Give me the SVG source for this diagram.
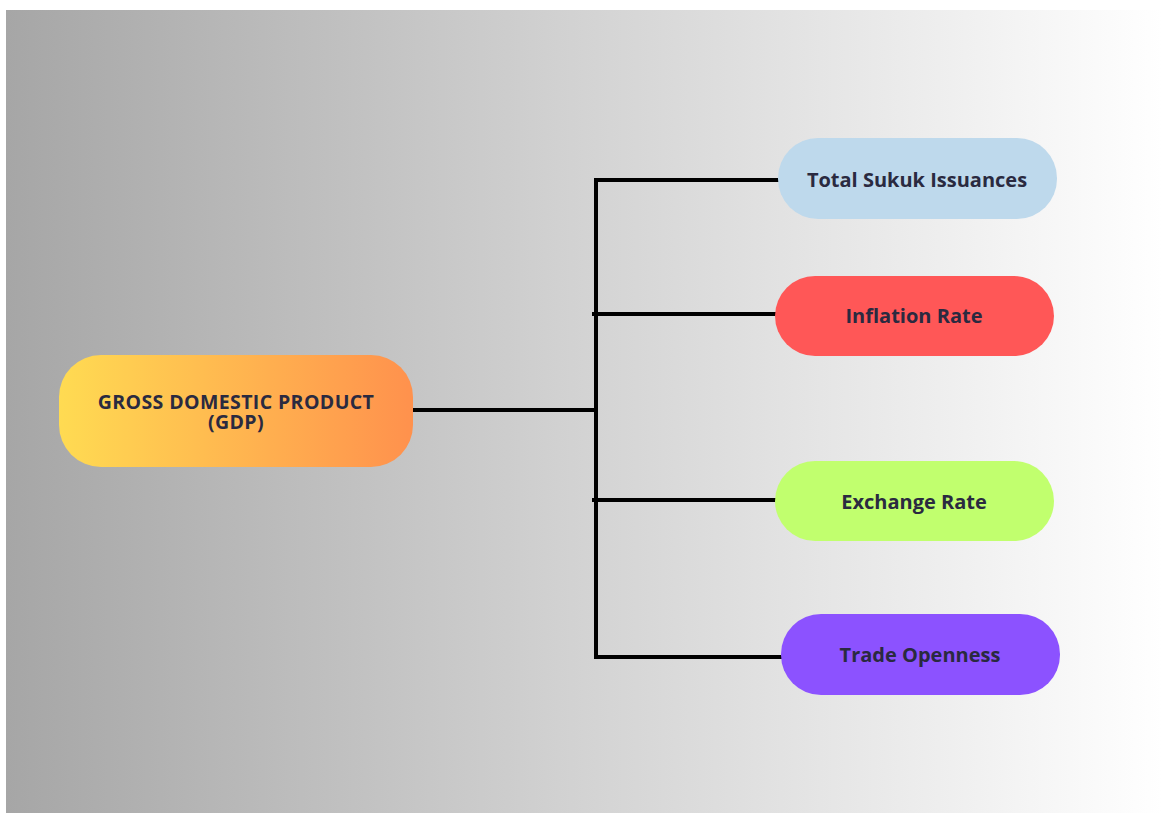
<svg xmlns="http://www.w3.org/2000/svg" width="1162" height="813" viewBox="0 0 1162 813">
<defs>
<linearGradient id="bg" x1="0" y1="0" x2="1" y2="0">
<stop offset="0" stop-color="#a6a6a6"/>
<stop offset="0.5" stop-color="#d3d3d3"/>
<stop offset="1" stop-color="#ffffff"/>
</linearGradient>
<linearGradient id="gdp" x1="0" y1="0" x2="1" y2="0">
<stop offset="0" stop-color="#ffdb52"/>
<stop offset="1" stop-color="#ff914d"/>
</linearGradient>
<style>
.lbl{font-family:"Open Sans","Liberation Sans",sans-serif;font-weight:bold;font-size:20px;fill:#2a2a40;text-anchor:middle;dominant-baseline:central}
.conn{stroke:#000;stroke-width:4;fill:none;stroke-linecap:square}
</style>
</defs>
<rect width="1162" height="813" fill="#ffffff"/>
<rect x="6" y="10" width="1156" height="803" fill="url(#bg)"/>
<g id="connectors">
<path class="conn" d="M413 410 H593"/>
<path class="conn" d="M596 180 V657"/>
<path class="conn" d="M596 180 H778"/>
<path class="conn" d="M594 314 H775"/>
<path class="conn" d="M594 500 H775"/>
<path class="conn" d="M596 657 H781"/>
</g>
<g id="gdp-node">
<rect x="59" y="355" width="354" height="112" rx="42" fill="url(#gdp)"/>
<text class="lbl" x="236" y="401" style="font-size:19.5px;letter-spacing:0.4px">GROSS DOMESTIC PRODUCT</text>
<text class="lbl" x="236" y="421" style="font-size:19.5px;letter-spacing:0.4px">(GDP)</text>
</g>
<g id="sukuk-node">
<rect x="778" y="138" width="279" height="81" rx="40" fill="#bed9ec"/>
<text class="lbl" x="917" y="179">Total Sukuk Issuances</text>
</g>
<g id="inflation-node">
<rect x="775" y="276" width="279" height="80" rx="40" fill="#ff5757"/>
<text class="lbl" x="914" y="315">Inflation Rate</text>
</g>
<g id="exchange-node">
<rect x="775" y="461" width="279" height="80" rx="40" fill="#c1ff6e"/>
<text class="lbl" x="914" y="501">Exchange Rate</text>
</g>
<g id="trade-node">
<rect x="781" y="614" width="279" height="81" rx="40" fill="#8c52ff"/>
<text class="lbl" x="920" y="654">Trade Openness</text>
</g>
</svg>
